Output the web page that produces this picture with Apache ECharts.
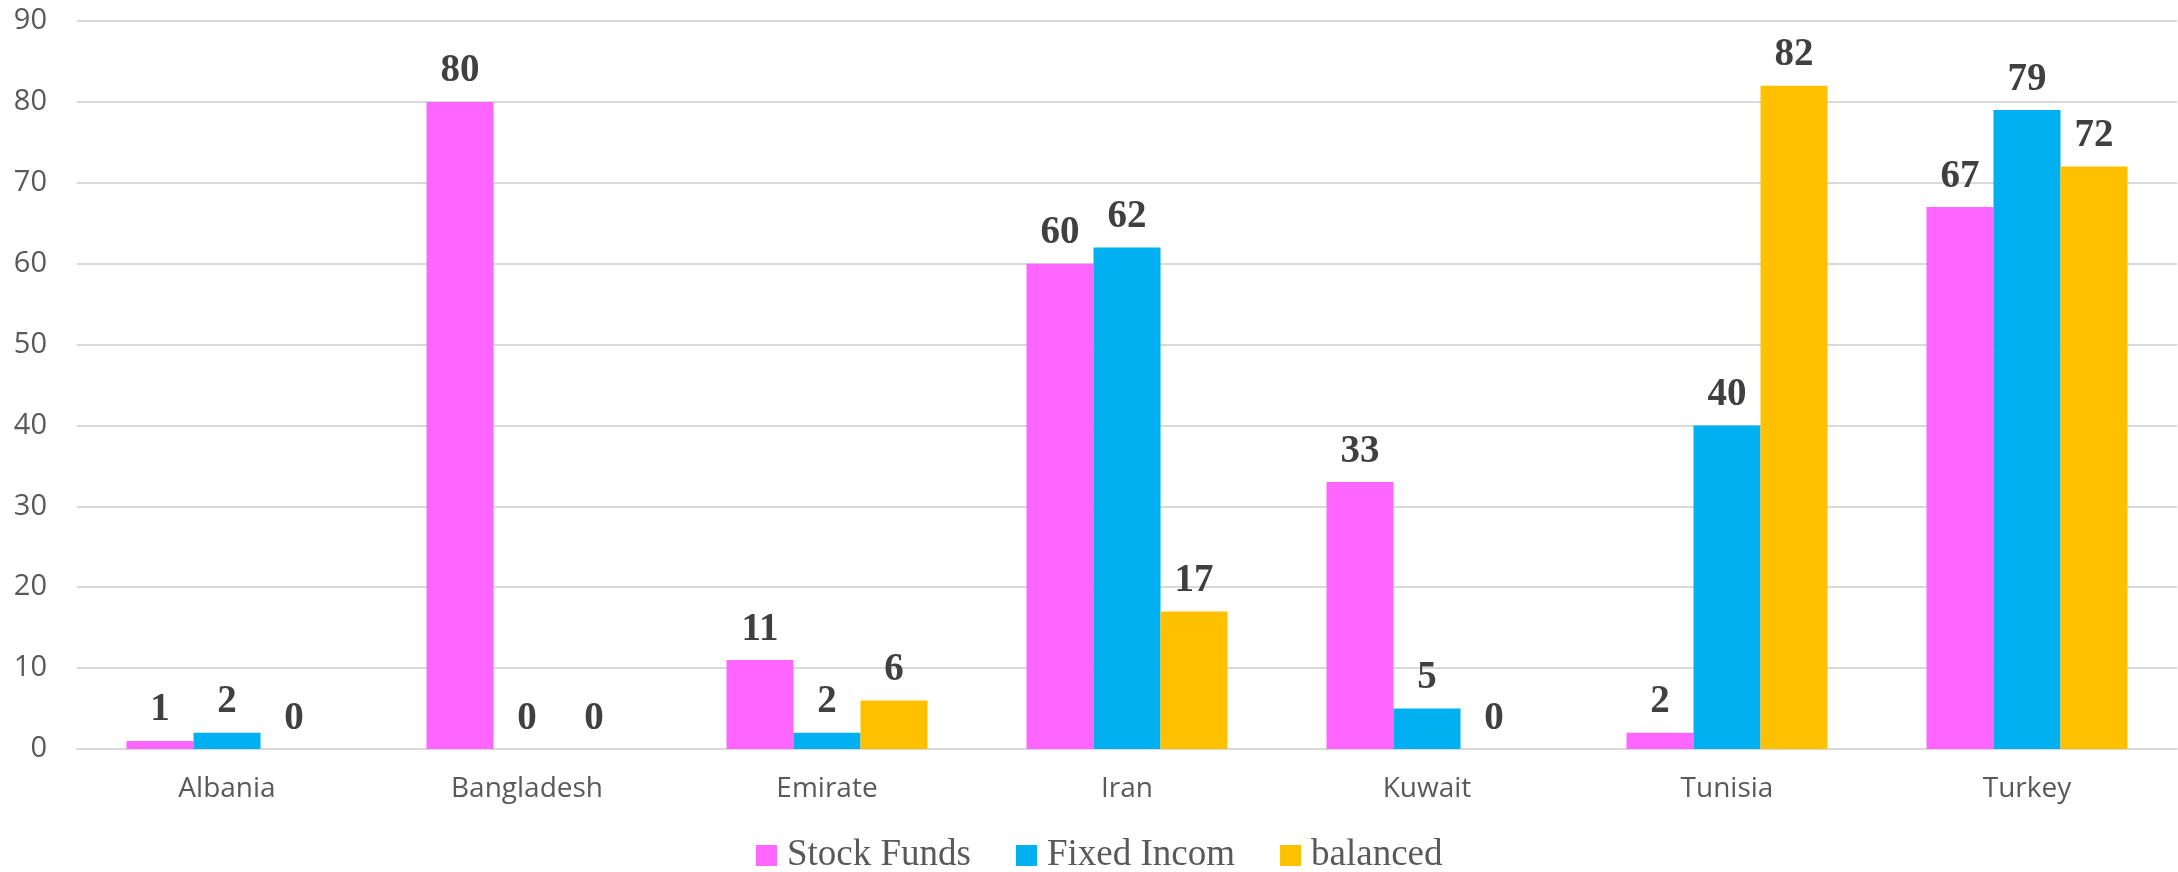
<!DOCTYPE html>
<html>
<head>
<meta charset="utf-8">
<script src="https://cdn.jsdelivr.net/npm/echarts@6/dist/echarts.min.js"></script>
<style>
html,body{margin:0;padding:0;background:#fff;}
#chart{width:2178px;height:872px;}
</style>
</head>
<body>
<div id="chart"></div>
<script>
const categories = ['Albania', 'Bangladesh', 'Emirate', 'Iran', 'Kuwait', 'Tunisia', 'Turkey'];
const stockFunds = [1, 80, 11, 60, 33, 2, 67];
const fixedIncom = [2, 0, 2, 62, 5, 40, 79];
const balanced = [0, 0, 6, 17, 0, 82, 72];
const seriesNames = ['Stock Funds', 'Fixed Incom', 'balanced'];
const seriesColors = ['#FF66FF', '#00B0F0', '#FFC000'];

const chart = echarts.init(document.getElementById('chart'), null, {renderer: 'canvas'});
const labelStyle = {
  show: true,
  position: 'top',
  distance: 11,
  fontFamily: 'Liberation Serif',
  fontWeight: 'bold',
  fontSize: 39,
  color: '#404040'
};
const seriesData = [stockFunds, fixedIncom, balanced];
chart.setOption({
  animation: false,
  backgroundColor: '#ffffff',
  grid: {left: 77, right: 1, top: 21, bottom: 123, containLabel: false},
  legend: {
    data: seriesNames,
    left: 756,
    top: 837,
    padding: 0,
    itemWidth: 21,
    itemHeight: 21,
    itemGap: 45,
    icon: 'rect',
    textStyle: {
      fontFamily: 'Liberation Serif',
      fontSize: 37,
      color: '#595959',
      padding: [0, 0, 0, 5]
    }
  },
  xAxis: {
    type: 'category',
    data: categories,
    axisLine: {show: true, lineStyle: {color: '#D9D9D9', width: 2}},
    axisTick: {show: false},
    axisLabel: {fontFamily: 'Open Sans', fontSize: 28, color: '#595959', margin: 26}
  },
  yAxis: {
    type: 'value',
    min: 0,
    max: 90,
    interval: 10,
    axisLine: {show: false},
    axisTick: {show: false},
    splitLine: {lineStyle: {color: '#D9D9D9', width: 2}},
    axisLabel: {fontFamily: 'Open Sans', fontSize: 29, color: '#595959', margin: 30}
  },
  series: seriesNames.map((name, i) => ({
    name: name,
    type: 'bar',
    data: seriesData[i],
    barGap: '0%',
    barCategoryGap: '33%',
    itemStyle: {color: seriesColors[i]},
    label: labelStyle
  }))
});
</script>
</body>
</html>
